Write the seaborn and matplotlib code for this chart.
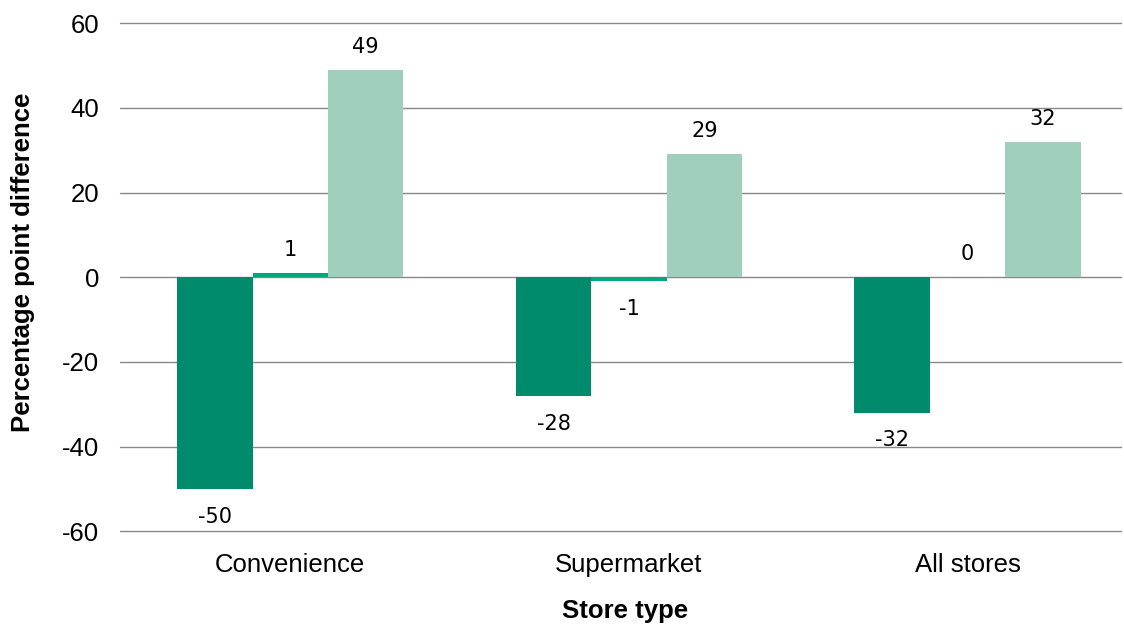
import matplotlib
matplotlib.use("Agg")
import matplotlib.pyplot as plt
import pandas as pd
import seaborn as sns

stores = ["Convenience", "Supermarket", "All stores"]
series = ["Series A", "Series B", "Series C"]
series_a = [-50, -28, -32]
series_b = [1, -1, 0]
series_c = [49, 29, 32]
colors = ["#008C6C", "#00A67E", "#A1CFBD"]

rows = []
for name, vals in zip(series, [series_a, series_b, series_c]):
    for s, v in zip(stores, vals):
        rows.append({"store": s, "series": name, "value": v})
df = pd.DataFrame(rows)

sns.set_style("white")
plt.rcParams["font.family"] = ["Liberation Sans", "DejaVu Sans"]
plt.rcParams["axes.unicode_minus"] = False
plt.rcParams["text.color"] = "black"
plt.rcParams["axes.labelcolor"] = "black"
plt.rcParams["xtick.color"] = "black"
plt.rcParams["ytick.color"] = "black"

fig = plt.figure(figsize=(11.24, 6.25), dpi=100)
ax = fig.add_axes([0.107, 0.15, 0.89, 0.813])

sns.barplot(data=df, x="store", y="value", hue="series", palette=colors,
            width=0.668, saturation=1, legend=False, linewidth=0, ax=ax)

ax.set_ylim(-60, 60)
ax.set_yticks(range(-60, 61, 20))
ax.yaxis.grid(True, color="#888888", linewidth=1)
for gl in ax.get_ygridlines():
    gl.set_clip_on(False)
ax.set_axisbelow(True)
for sp in ax.spines.values():
    sp.set_visible(False)
ax.tick_params(axis="y", length=0, labelsize=18.5, pad=15)
ax.tick_params(axis="x", length=0, labelsize=18.5, pad=16)
ax.set_xlim(-0.502, 2.452)

for cont in ax.containers:
    for bar in cont:
        h = bar.get_height()
        x = bar.get_x() + bar.get_width() / 2
        off = -20 if h < 0 else 16.5
        ax.annotate(f"{h:.0f}", (x, h), xytext=(0, off),
                    textcoords="offset points", ha="center", va="center",
                    fontsize=15, family="DejaVu Sans", color="black")

ax.set_xlabel("Store type", fontsize=18.5, fontweight="bold")
ax.set_ylabel("Percentage point difference", fontsize=18.5, fontweight="bold")
ax.xaxis.set_label_coords(0.505, -0.134)
ax.yaxis.set_label_coords(-0.085, 0.53)

fig.savefig("out.png", dpi=100)
